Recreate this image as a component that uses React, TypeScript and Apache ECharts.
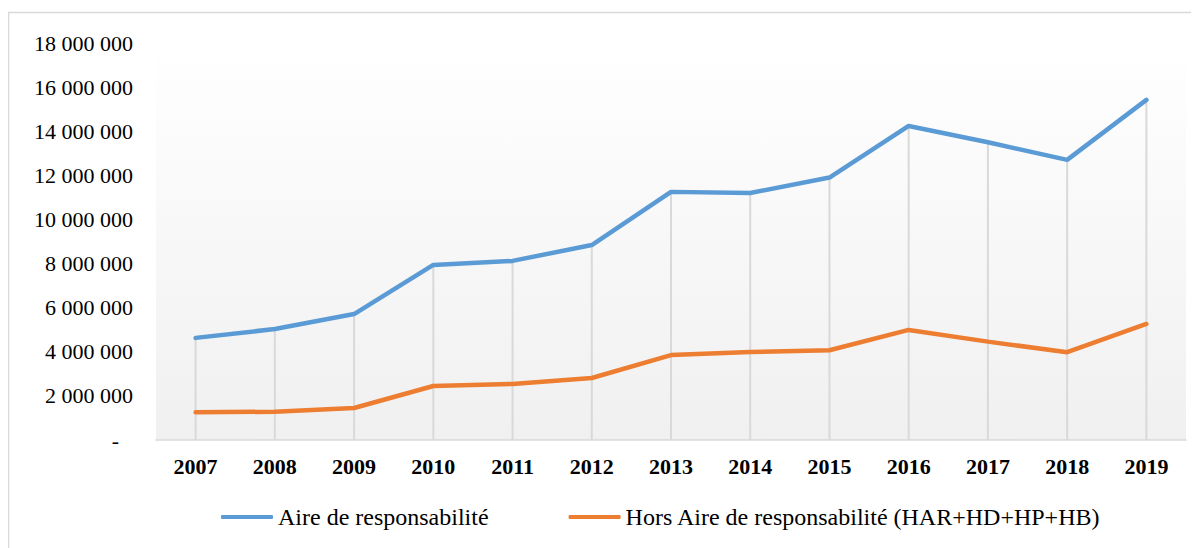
import React, { useEffect, useRef } from "react";
import * as echarts from "echarts";

const years = ["2007", "2008", "2009", "2010", "2011", "2012", "2013", "2014", "2015", "2016", "2017", "2018", "2019"];
const aire = [4630000, 5030000, 5710000, 7940000, 8120000, 8840000, 11250000, 11200000, 11900000, 14240000, 13500000, 12700000, 15420000];
const horsAire = [1260000, 1280000, 1450000, 2450000, 2540000, 2810000, 3850000, 3990000, 4070000, 4990000, 4460000, 3980000, 5260000];
const seriesNames = ["Aire de responsabilité", "Hors Aire de responsabilité (HAR+HD+HP+HB)"];

const FONT = "Liberation Serif, serif";

function fmt(v: number): string {
  if (v === 0) return "{z|-}";
  const s = String(Math.round(v));
  return s.replace(/\B(?=(\d{3})+(?!\d))/g, " ");
}

export default function App() {
  const ref = useRef<HTMLDivElement>(null);
  useEffect(() => {
    if (!ref.current) return;
    const chart = echarts.init(ref.current, undefined, { renderer: "svg" });
    const dropValues = aire.map((v, i) => Math.max(v, horsAire[i]));
    chart.setOption({
      animation: false,
      backgroundColor: "#ffffff",
      textStyle: { fontFamily: FONT },
      graphic: [
        {
          type: "rect",
          z: -10,
          shape: { x: 0.5, y: 4.5, width: 1196, height: 560 },
          style: { fill: "none", stroke: "#d9d9d9", lineWidth: 1.5 },
          silent: true,
        },
      ],
      grid: {
        left: 148,
        right: 13,
        top: 35,
        bottom: 108,
        show: true,
        borderWidth: 0,
        backgroundColor: new echarts.graphic.LinearGradient(0, 0, 0, 1, [
          { offset: 0, color: "#ffffff" },
          { offset: 1, color: "#f0f0f0" },
        ]),
      },
      legend: {
        data: seriesNames,
        left: 208,
        top: 492,
        icon: "roundRect",
        itemWidth: 52,
        itemHeight: 4,
        itemGap: 80,
        textStyle: { fontFamily: FONT, fontSize: 24, color: "#000000" },
      },
      xAxis: {
        type: "category",
        data: years,
        boundaryGap: true,
        axisLine: { show: true, lineStyle: { color: "#d9d9d9", width: 1.5 } },
        axisTick: { show: false },
        axisLabel: { fontFamily: FONT, fontSize: 22, fontWeight: "bold", color: "#000000", margin: 15 },
        splitLine: { show: false },
      },
      yAxis: {
        type: "value",
        min: 0,
        max: 18000000,
        interval: 2000000,
        axisLine: { show: false },
        axisTick: { show: false },
        splitLine: { show: false },
        axisLabel: {
          fontFamily: FONT,
          fontSize: 22,
          color: "#000000",
          margin: 23,
          formatter: fmt,
          rich: { z: { fontFamily: FONT, fontSize: 22, color: "#000000", padding: [0, 14, 0, 0] } },
        },
      },
      series: [
        {
          name: "drop",
          type: "bar",
          data: dropValues,
          barWidth: 2,
          silent: true,
          itemStyle: { color: "#d9d9d9" },
          z: 1,
        },
        {
          name: seriesNames[0],
          type: "line",
          data: aire,
          showSymbol: false,
          symbol: "none",
          lineStyle: { color: "#5b9bd5", width: 4.5, cap: "round" },
          itemStyle: { color: "#5b9bd5" },
          z: 3,
        },
        {
          name: seriesNames[1],
          type: "line",
          data: horsAire,
          showSymbol: false,
          symbol: "none",
          lineStyle: { color: "#ed7d31", width: 4.5, cap: "round" },
          itemStyle: { color: "#ed7d31" },
          z: 3,
        },
      ],
    });
    return () => chart.dispose();
  }, []);
  return <div ref={ref} style={{ width: 1191, height: 540 }} />;
}
